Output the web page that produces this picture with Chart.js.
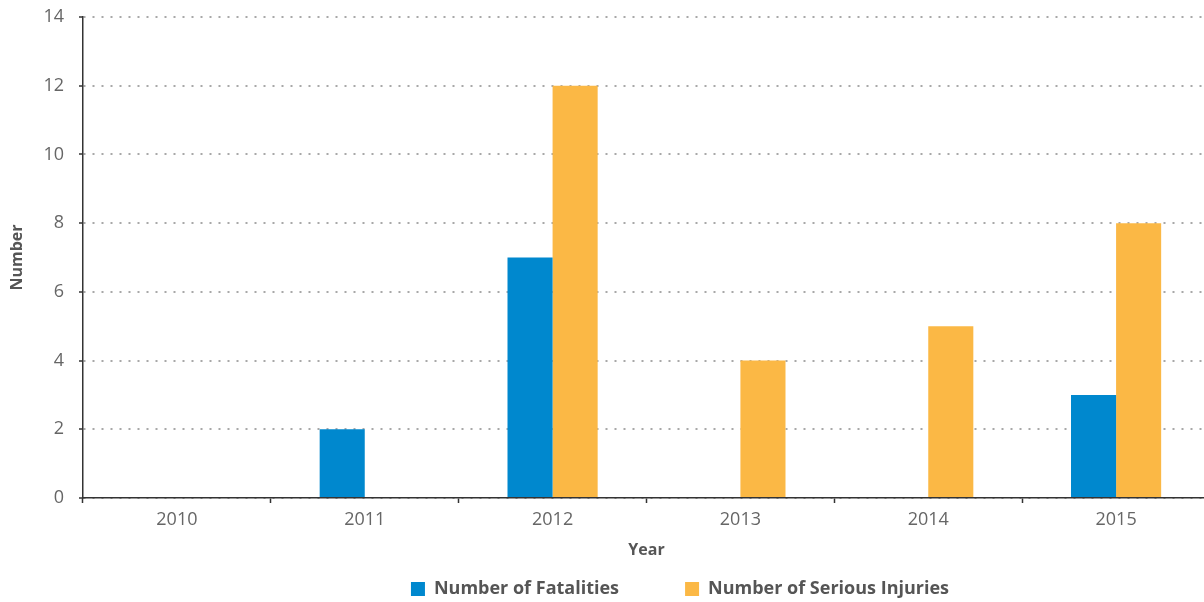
<!DOCTYPE html>
<html>
<head>
<meta charset="utf-8">
<script src="https://cdn.jsdelivr.net/npm/chart.js@4/dist/chart.umd.min.js"></script>
<style>
  html, body { margin: 0; padding: 0; background: #fff; overflow: hidden; }
  #wrap { width: 1210px; height: 602px; position: relative; }
</style>
</head>
<body>
<div id="wrap"><canvas id="c"></canvas></div>
<script>
const years = ['2010', '2011', '2012', '2013', '2014', '2015'];
const fatalities = [0, 2, 7, 0, 0, 3];
const seriousInjuries = [0, 0, 12, 4, 5, 8];
const seriesNames = ['Number of Fatalities', 'Number of Serious Injuries'];
const seriesColors = ['#0088ce', '#fbb845'];
const yTitle = 'Number';
const xTitle = 'Year';

const FONT = "'Open Sans', 'Noto Sans', sans-serif";
const LEGEND_CX = 680;
const LEGEND_CY = 589;
const LEGEND_PAD = 66;

const legendShift = {
  id: 'legendShift',
  afterLayout(chart) {
    const lg = chart.legend;
    if (!lg) return;
    const w = lg.right - lg.left;
    lg.left = LEGEND_CX - w / 2;
    lg.right = lg.left + w;
    lg.top = LEGEND_CY - LEGEND_PAD - 9;
    lg.bottom = lg.top + 2 * LEGEND_PAD + 20;
    lg.height = lg.bottom - lg.top;
  }
};

new Chart(document.getElementById('c'), {
  type: 'bar',
  data: {
    labels: years,
    datasets: [
      { label: seriesNames[0], data: fatalities, backgroundColor: seriesColors[0] },
      { label: seriesNames[1], data: seriousInjuries, backgroundColor: seriesColors[1] }
    ]
  },
  options: {
    responsive: true,
    maintainAspectRatio: false,
    animation: false,
    categoryPercentage: 0.48,
    barPercentage: 1,
    layout: { padding: { top: 17, left: 0, right: 0, bottom: 0 } },
    plugins: {
      tooltip: { enabled: false },
      legend: {
        position: 'bottom',
        maxHeight: 40,
        labels: {
          boxWidth: 14,
          boxHeight: 14,
          padding: LEGEND_PAD,
          color: '#555',
          font: { family: FONT, size: 18, weight: 'bold' }
        }
      }
    },
    scales: {
      x: {
        offset: true,
        grid: {
          display: true,
          drawOnChartArea: false,
          drawTicks: true,
          tickLength: 5,
          offset: true,
          tickColor: '#333',
          tickWidth: 1.5
        },
        border: { display: true, color: '#333', width: 1.5 },
        ticks: {
          color: '#666',
          padding: 6,
          font: { family: FONT, size: 18 }
        },
        title: {
          display: true,
          text: xTitle,
          color: '#555',
          padding: { top: 2, bottom: 2 },
          font: { family: FONT, size: 16, weight: 'bold' }
        },
        afterFit(scale) { scale.height = 64; }
      },
      y: {
        min: 0,
        max: 14,
        ticks: {
          stepSize: 2,
          color: '#666',
          padding: 15,
          font: { family: FONT, size: 18 }
        },
        grid: {
          color: '#a8a8a8',
          lineWidth: 2,
          drawTicks: true,
          tickLength: 4,
          tickColor: '#333',
          tickWidth: 1.5,
          tickBorderDash: []
        },
        border: { display: true, color: '#333', width: 1.5, dash: [2, 7] },
        title: {
          display: true,
          text: yTitle,
          color: '#555',
          padding: { top: 8, bottom: 8 },
          font: { family: FONT, size: 16, weight: 'bold' }
        },
        afterFit(scale) { scale.width = 83; scale.paddingTop = 0; scale.paddingBottom = 0; }
      }
    }
  },
  plugins: [legendShift]
});
</script>
</body>
</html>
